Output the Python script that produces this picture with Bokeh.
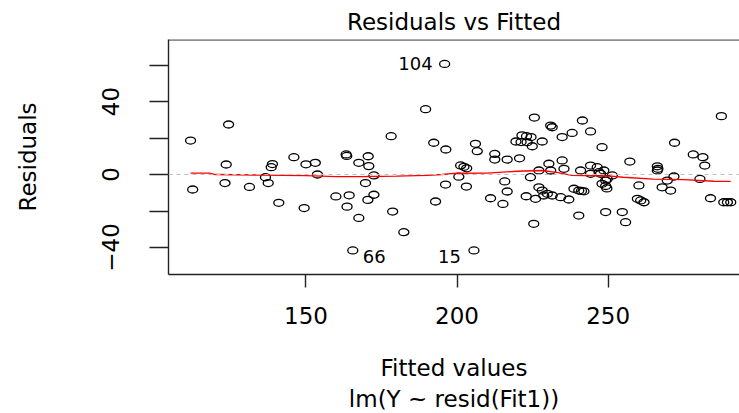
from bokeh.plotting import figure
from bokeh.models import LinearAxis, FixedTicker, Title, Range1d, Span, ColumnDataSource
from bokeh.core.properties import value
from bokeh.embed import file_html
from bokeh.resources import INLINE

FONT = "DejaVu Sans"

# Fitted values and residuals
fitted = [111.8, 112.5, 124.4, 123.6, 123.2, 131.3, 138.9, 138.5, 136.6, 137.5, 146.0, 150.0,
          153.1, 153.8, 141.0, 149.4, 163.3, 163.5, 167.5, 159.9, 164.3, 163.6, 167.5, 165.5,
          170.6, 170.8, 172.5, 169.7, 172.5, 170.5, 178.2, 178.7, 182.4, 189.6, 192.3, 196.3,
          195.9, 192.9, 196.2, 200.6, 203.1, 201.2, 202.3, 203.2, 205.6, 206.1, 206.7, 212.5,
          212.5, 216.6, 220.7, 215.8, 216.6, 211.1, 215.2, 222.9, 225.4, 225.6, 221.5, 223.0,
          224.5, 219.5, 221.2, 223.2, 228.2, 224.9, 231.0, 231.5, 241.5, 244.2, 238.1, 234.8,
          248.0, 230.4, 234.8, 235.4, 231.0, 227.1, 224.3, 240.9, 244.2, 246.4, 247.0, 248.6,
          244.2, 247.5, 251.4, 249.7, 249.2, 248.0, 249.2, 249.6, 227.1, 228.2, 229.9, 228.7,
          231.5, 226.0, 234.3, 237.0, 238.7, 240.3, 241.2, 242.0, 240.3, 249.2, 257.2, 266.3,
          266.5, 266.3, 271.8, 269.6, 280.4, 260.2, 267.9, 270.7, 259.7, 260.8, 261.9, 283.9,
          288.3, 289.5, 290.6, 254.7, 255.8, 272.0, 278.2, 281.4, 282.0, 287.5]
residuals = [18.6, -8.2, 27.4, 5.5, -4.7, -6.8, 5.7, 4.0, -1.5, -4.7, 9.5, 5.6,
             6.4, 0.0, -15.5, -18.4, 11.0, 10.2, 6.4, -12.0, -11.4, -17.6, -23.8, -41.6,
             10.0, 4.6, -0.5, -4.7, -11.1, -13.9, 21.0, -20.3, -31.6, 35.8, 17.4, 13.7,
             60.6, -14.8, -5.5, -1.2, -6.6, 5.0, 4.2, 3.4, -41.6, 16.8, 12.8, 11.3,
             8.2, 8.2, 8.9, -3.8, -9.3, -13.0, -16.1, -11.9, -27.0, 31.2, 21.5, 21.0,
             20.5, 18.1, 17.8, 17.7, 18.1, 15.5, 26.8, 25.9, 29.6, 23.6, 22.8, 20.5,
             15.0, 5.9, 7.7, 3.1, 2.2, 2.2, -1.5, 2.2, 4.9, 4.0, 1.3, 2.2,
             0.4, 0.4, -0.5, -2.4, -3.3, -5.1, -6.3, -7.6, -7.0, -8.8, -10.6, -11.5,
             -11.5, -13.3, -12.4, -13.7, -7.8, -8.8, -9.0, -9.2, -22.5, -20.6, 7.1, 4.5,
             3.1, 2.2, -1.1, -3.3, -2.4, -6.0, -7.0, -8.8, -13.3, -14.2, -15.2, -13.0,
             -15.2, -15.2, -15.2, -20.6, -26.1, 17.4, 11.0, 9.5, 4.9, 32.0]

# smoother (red line)
smooth_x = [111.8, 118, 120, 135, 150, 160, 170, 180, 190, 195, 200, 210, 220, 228, 233,
            238, 250, 255, 265, 275, 285, 290.6]
smooth_y = [0.8, 0.8, 0.0, -0.3, -0.6, -1.2, -1.1, -0.9, -0.5, 0.0, 0.7, 0.8, 1.8, 2.2, 1.2,
            -0.5, -0.8, -1.5, -2.5, -2.8, -3.7, -3.8]

# labelled observations
obs_labels = ["104", "66", "15"]
obs_x = [195.9, 165.5, 205.6]
obs_y = [60.6, -41.6, -41.6]
obs_dx = [-12, 10, -13]
obs_dy = [0, 6, 6]
obs_align = ["right", "left", "right"]

x_ticks = [150, 200, 250]
y_ticks = [-40, 0, 40]
y_minor = [-20, 20, 60]

p = figure(width=739, height=413, output_backend="svg", toolbar_location=None,
           x_range=Range1d(104.5, 293.5), y_range=Range1d(-54.8, 74.0),
           x_axis_location=None, y_axis_location=None,
           min_border_left=168, min_border_right=0, min_border_top=39, min_border_bottom=139)
p.grid.visible = False
p.outline_line_color = None
p.background_fill_color = "white"
p.border_fill_color = "white"

p.title.text = "Residuals vs Fitted"
p.title.align = "center"
p.title.text_font = FONT
p.title.text_font_size = "23px"
p.title.text_font_style = "normal"
p.title.text_color = "black"
p.title.standoff = 9
p.title.offset = 6

xaxis = LinearAxis(ticker=FixedTicker(ticks=x_ticks))
xaxis.major_tick_out = 13
xaxis.major_tick_in = 0
xaxis.major_label_standoff = 19
xaxis.major_label_text_font = FONT
xaxis.major_label_text_font_size = "23px"
xaxis.major_label_text_color = "black"
xaxis.axis_line_color = "#222222"
xaxis.axis_line_width = 1.4
xaxis.major_tick_line_color = "#222222"
xaxis.major_tick_line_width = 1.4
xaxis.minor_tick_line_color = None
xaxis.axis_label = "Fitted values"
xaxis.axis_label_text_font = FONT
xaxis.axis_label_text_font_size = "23px"
xaxis.axis_label_text_font_style = "normal"
xaxis.axis_label_text_color = "black"
xaxis.axis_label_standoff = 28
p.add_layout(xaxis, "below")

yaxis = LinearAxis(ticker=FixedTicker(ticks=y_ticks, minor_ticks=y_minor))
yaxis.major_tick_out = 19
yaxis.major_tick_in = 0
yaxis.minor_tick_out = 19
yaxis.minor_tick_in = 0
yaxis.major_label_orientation = "parallel"
yaxis.major_label_standoff = 30
yaxis.major_label_text_font = FONT
yaxis.major_label_text_font_size = "23px"
yaxis.major_label_text_color = "black"
yaxis.axis_line_color = "#222222"
yaxis.axis_line_width = 1.4
yaxis.major_tick_line_color = "#222222"
yaxis.major_tick_line_width = 1.4
yaxis.minor_tick_line_color = "#222222"
yaxis.minor_tick_line_width = 1.4
yaxis.axis_label = "Residuals"
yaxis.axis_label_text_font = FONT
yaxis.axis_label_text_font_size = "23px"
yaxis.axis_label_text_font_style = "normal"
yaxis.axis_label_text_color = "black"
yaxis.axis_label_standoff = 59
p.add_layout(yaxis, "left")

t2 = Title(text="lm(Y ~ resid(Fit1))", align="center", text_font=FONT, text_font_size="23px",
           text_font_style="normal", text_color="black", offset=6, standoff=0)
p.add_layout(t2, "below")

# top border of the box
p.add_layout(Span(location=73.8, dimension="width", line_color="#222222", line_width=1.4))
# zero reference line
p.add_layout(Span(location=0, dimension="width", line_color="#bebebe", line_dash="4 4", line_width=1))

src = ColumnDataSource(data=dict(x=fitted, y=residuals))
p.ellipse(x="x", y="y", width=10, height=7, width_units="screen", height_units="screen",
          source=src, fill_color=None, line_color="black", line_width=1.3)

p.line(smooth_x, smooth_y, line_color="red", line_width=1.3)

lab = ColumnDataSource(data=dict(x=obs_x, y=obs_y, t=obs_labels, dx=obs_dx, dy=obs_dy, a=obs_align))
p.text(x="x", y="y", text="t", x_offset="dx", y_offset="dy", text_align="a", source=lab,
       text_baseline="middle", text_font=value(FONT), text_font_size="18px", text_color="black")

open("out.html", "w").write(file_html(p, INLINE))
